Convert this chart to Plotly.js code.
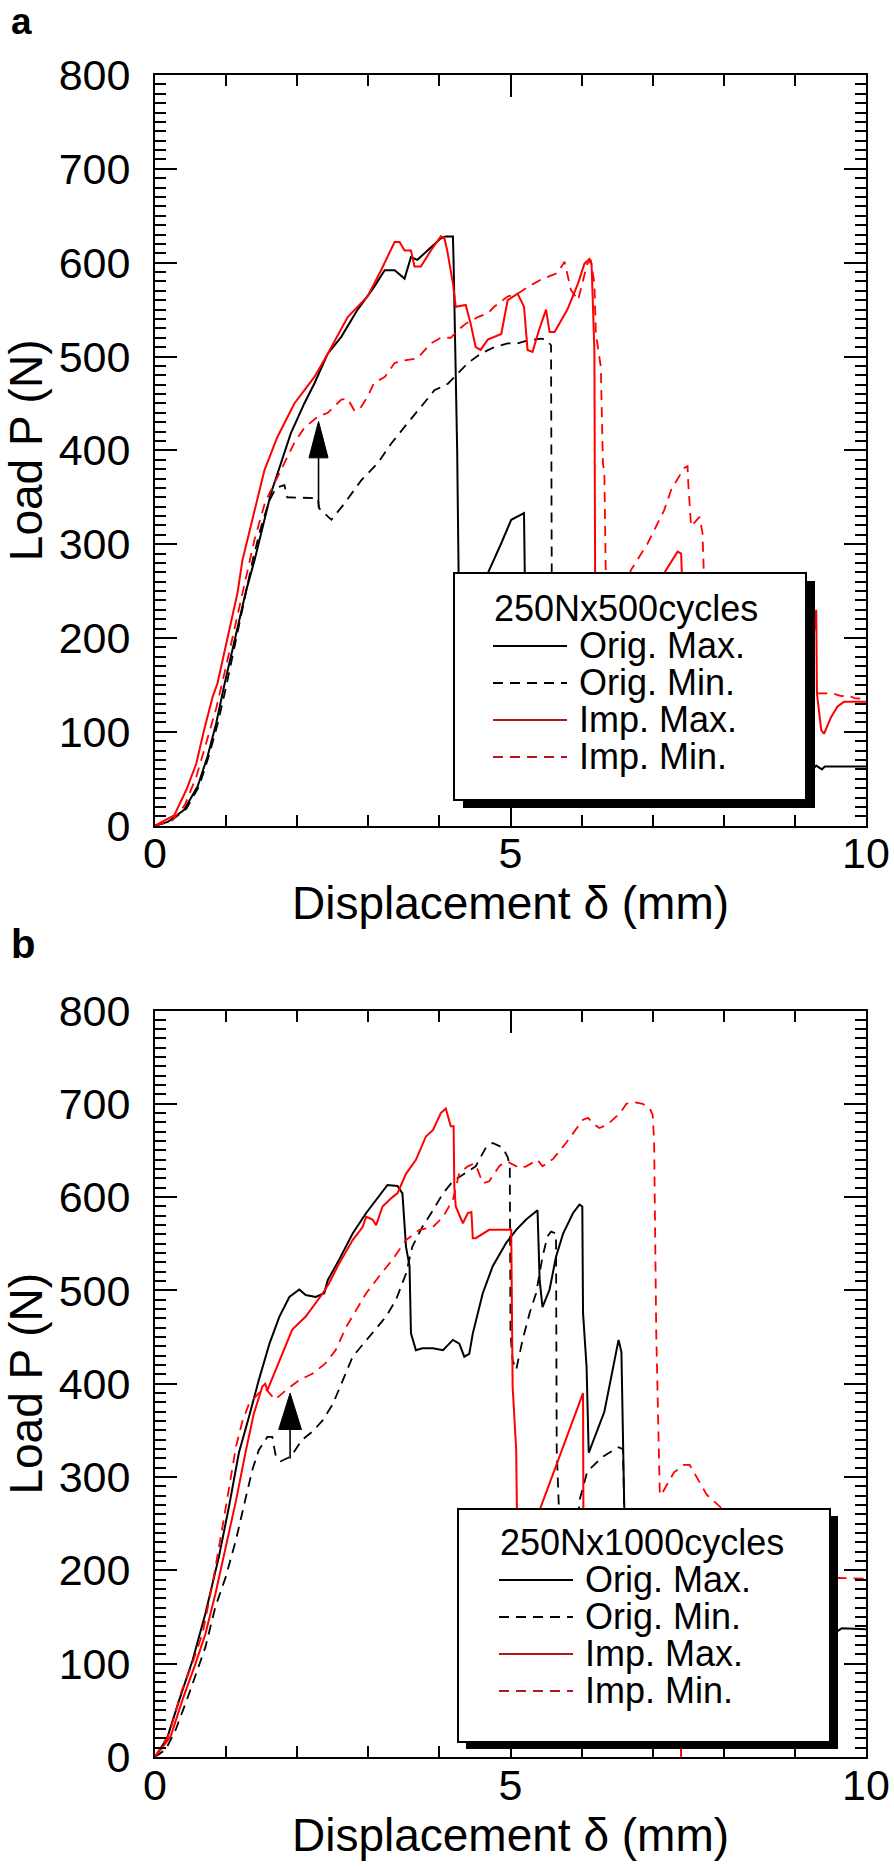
<!DOCTYPE html>
<html><head><meta charset="utf-8">
<script src="https://cdn.plot.ly/plotly-3.0.1.min.js"></script>
<style>html,body{margin:0;padding:0;background:#fff}</style>
</head><body><div id="chart" style="width:894px;height:1868px"></div>
<script>
// ---------- DATA ----------
const seriesNames = ['Orig. Max.', 'Orig. Min.', 'Imp. Max.', 'Imp. Min.'];
const legendTitleA = '250Nx500cycles';
const legendTitleB = '250Nx1000cycles';
const xTickVals = [0, 5, 10];
const yTickVals = [0, 100, 200, 300, 400, 500, 600, 700, 800];

// Panel a : 250N x 500 cycles
const aOrigMaxX = [0,0.18,0.41,0.60,0.74,0.86,0.975,1.14,1.28,1.40,1.49,1.63,1.77,1.91,2.10,2.24,2.43,2.62,2.85,3.08,3.23,3.37,3.51,3.60,3.69,3.84,4.02,4.09,4.19,4.20,4.22,4.25,4.27,4.32,4.55,4.68,4.87,5.01,5.19,5.20,5.22,9.25,9.30,9.38,9.42,10];
const aOrigMaxY = [0,4,17,42,74,109,150,205,250,283,312,354,386,418,450,471,503,521,550,574,592,592,583,606,603,613,626,628,628,600,520,400,269,200,230,269,301,326,333,260,150,60,64,60,63,63];

const aOrigMinX = [0,0.22,0.44,0.62,0.76,0.88,1.00,1.14,1.27,1.38,1.48,1.60,1.70,1.82,1.86,2.17,2.29,2.31,2.48,2.66,2.90,3.13,3.32,3.51,3.74,3.93,4.12,4.26,4.40,4.58,4.77,4.96,5.10,5.24,5.43,5.50,5.57,5.58,5.59];
const aOrigMinY = [0,5,18,42,75,108,148,198,245,285,315,345,360,363,350,349,349,338,326,343,368,386,407,425,446,464,471,482,493,503,510,514,514,517,519,518,512,269,60];

const aImpMaxX = [0,0.27,0.44,0.58,0.69,0.81,0.88,1.02,1.16,1.23,1.35,1.54,1.72,1.96,2.24,2.43,2.71,2.99,3.18,3.37,3.44,3.51,3.60,3.65,3.74,3.88,4.02,4.07,4.11,4.19,4.23,4.37,4.44,4.51,4.58,4.68,4.87,4.96,5.10,5.19,5.24,5.31,5.40,5.50,5.55,5.62,5.80,5.95,6.04,6.11,6.14,6.16,6.17,6.18,6.19,6.21,6.80,7.16,7.35,7.40,7.41,7.43,9.26,9.30,9.31,9.37,9.41,9.51,9.60,9.69,10];
const aImpMaxY = [0,11,38,66,102,137,152,201,248,283,319,379,414,450,478,503,542,564,592,622,622,613,613,596,596,613,628,626,613,578,553,555,535,510,507,518,524,560,567,553,507,505,528,550,526,526,550,578,599,604,599,560,530,507,269,150,190,269,292,290,269,150,200,230,141,102,98,116,127,132,132];

const aImpMinX = [0,0.25,0.42,0.58,0.72,0.86,1.00,1.13,1.27,1.40,1.55,1.77,1.96,2.10,2.29,2.43,2.62,2.71,2.80,2.87,2.99,3.08,3.23,3.37,3.51,3.69,3.88,4.02,4.16,4.26,4.37,4.54,4.68,4.77,4.96,5.10,5.24,5.43,5.52,5.66,5.76,5.80,5.85,5.95,6.08,6.13,6.18,6.20,6.23,6.27,6.30,6.32,6.34,6.40,6.55,6.69,6.93,7.16,7.26,7.44,7.49,7.50,7.54,7.66,7.70,7.72,7.75,9.28,9.33,9.53,9.65,9.74,9.84,10];
const aImpMinY = [0,6,22,52,88,125,170,215,262,305,345,379,408,424,436,440,454,455,443,443,457,472,478,493,496,498,514,520,520,528,535,542,546,553,564,567,574,582,585,589,601,589,571,560,599,602,578,525,507,489,386,376,269,150,200,272,301,336,358,381,383,365,319,329,312,272,200,141,141,141,138,139,136,135];

// Panel b : 250N x 1000 cycles
const bOrigMaxX = [0,0.17,0.34,0.53,0.71,0.90,1.04,1.18,1.32,1.46,1.61,1.75,1.89,2.03,2.12,2.26,2.38,2.43,2.59,2.78,2.97,3.11,3.27,3.41,3.48,3.53,3.58,3.60,3.67,3.76,3.91,4.05,4.19,4.28,4.35,4.42,4.47,4.61,4.75,4.94,5.08,5.22,5.38,5.41,5.45,5.55,5.64,5.74,5.88,5.97,6.01,6.02,6.07,6.10,6.32,6.52,6.56,6.60,6.70,6.75,9.60,9.66,10];
const bOrigMaxY = [0,20,61,104,154,215,268,326,364,404,443,472,493,501,495,493,497,511,533,561,583,597,613,612,604,547,526,454,436,438,438,436,447,443,429,432,454,497,526,551,565,576,586,511,482,501,536,561,583,592,590,476,418,326,370,447,434,268,13,40,135,138,137];

const bOrigMinX = [0,0.15,0.29,0.48,0.71,0.85,0.995,1.14,1.28,1.37,1.46,1.58,1.65,1.70,1.77,1.91,2.07,2.22,2.36,2.50,2.78,3.01,3.25,3.39,3.53,3.62,3.76,3.91,4.05,4.19,4.38,4.51,4.66,4.75,4.89,4.96,4.99,5.00,5.03,5.08,5.17,5.27,5.36,5.45,5.52,5.57,5.64,5.65,5.68,5.70,5.93,5.97,6.08,6.30,6.52,6.58,6.60,6.62];
const bOrigMinY = [0,8,29,68,118,161,193,233,279,308,329,343,343,322,317,322,340,349,361,378,429,450,472,490,518,547,568,586,604,617,626,633,654,658,653,643,633,454,425,415,447,476,497,536,558,563,561,329,268,180,230,275,306,322,332,330,268,120];

const bImpMaxX = [0,0.22,0.385,0.57,0.71,0.85,0.995,1.14,1.28,1.39,1.51,1.55,1.58,1.75,1.93,2.12,2.36,2.45,2.59,2.78,2.92,2.97,3.06,3.11,3.20,3.34,3.41,3.53,3.67,3.81,3.91,4.02,4.09,4.16,4.20,4.21,4.23,4.33,4.40,4.45,4.47,4.51,4.70,5.01,5.03,5.08,5.10,6.02,6.03,7.38,7.40];
const bImpMaxY = [0,22,61,100,132,175,225,275,329,368,397,400,393,425,458,472,497,508,529,554,568,579,576,570,590,600,604,625,640,665,672,690,695,676,676,611,590,572,583,584,556,556,565,565,397,329,201,390,150,100,0];

const bImpMinX = [0,0.20,0.38,0.525,0.67,0.81,0.95,1.04,1.14,1.23,1.32,1.46,1.55,1.69,1.84,2.03,2.22,2.40,2.54,2.69,2.83,2.97,3.15,3.34,3.53,3.72,3.91,4.05,4.19,4.28,4.40,4.49,4.54,4.61,4.70,4.85,4.96,5.13,5.22,5.38,5.45,5.60,5.78,5.88,6.02,6.09,6.16,6.25,6.35,6.44,6.54,6.63,6.72,6.86,6.96,7.00,7.02,7.05,7.09,7.10,7.12,7.30,7.44,7.52,7.76,7.95,8.10,9.45,9.61,10];
const bImpMinY = [0,25,72,100,133,186,247,286,333,360,378,390,395,383,393,404,411,422,436,461,479,497,515,533,554,565,568,579,597,626,633,636,629,615,617,634,638,631,633,640,633,641,658,668,683,685,679,674,677,683,690,700,702,700,695,688,660,454,329,281,281,305,313,313,281,268,240,190,192,191];

// Arrow annotations (displacement, load values)
const arrowA = {x: 2.30, from: 339, to: 431, head: 392, half: 0.134};
const arrowB = {x: 1.90, from: 320, to: 390, head: 351, half: 0.16};

// ---------- STYLE / LAYOUT ----------
const FONT = 'Liberation Sans, Arial, Helvetica, sans-serif';
const RED = 'rgb(255,0,0)';
const LEG_RED = 'rgb(185,20,30)';
const W = 894, H = 1868;
const L = 155, R = 866, T = 75, B = 1757;
const px2x = p => (p - L) / (R - L);
const py2y = p => (B - p) / (B - T);

function trace(x, y, name, color, dashed, xa, ya) {
  return {type: 'scatter', mode: 'lines', x: x, y: y, name: name, xaxis: xa, yaxis: ya,
    showlegend: false, line: {color: color, width: dashed ? 1.8 : 2, dash: dashed ? '10px,7px' : 'solid'}};
}

const data = [
  trace(aOrigMaxX, aOrigMaxY, seriesNames[0], '#000', false, 'x', 'y'),
  trace(aOrigMinX, aOrigMinY, seriesNames[1], '#000', true, 'x', 'y'),
  trace(aImpMaxX, aImpMaxY, seriesNames[2], RED, false, 'x', 'y'),
  trace(aImpMinX, aImpMinY, seriesNames[3], RED, true, 'x', 'y'),
  trace(bOrigMaxX, bOrigMaxY, seriesNames[0], '#000', false, 'x2', 'y2'),
  trace(bOrigMinX, bOrigMinY, seriesNames[1], '#000', true, 'x2', 'y2'),
  trace(bImpMaxX, bImpMaxY, seriesNames[2], RED, false, 'x2', 'y2'),
  trace(bImpMinX, bImpMinY, seriesNames[3], RED, true, 'x2', 'y2')
];

const tickCommon = {ticks: 'inside', tickcolor: '#000', tickwidth: 2, ticklen: 22,
  showline: true, linecolor: '#000', linewidth: 2, mirror: 'ticks',
  showgrid: false, zeroline: false, fixedrange: true,
  tickfont: {family: FONT, size: 43, color: '#000'}};

function xAxis(anchor) {
  return Object.assign({}, tickCommon, {anchor: anchor, domain: [0, 1],
    range: [xTickVals[0], xTickVals[xTickVals.length - 1]],
    tickmode: 'linear', tick0: xTickVals[0], dtick: xTickVals[1] - xTickVals[0], ticklabelstandoff: -11,
    minor: {tickmode: 'linear', tick0: 0, dtick: 1, ticks: 'inside', ticklen: 11, tickwidth: 2, tickcolor: '#000', showgrid: false},
    title: {text: 'Displacement \u03b4 (mm)', font: {family: FONT, size: 46, color: '#000'}, standoff: 2}});
}
function yAxis(anchor, domain) {
  return Object.assign({}, tickCommon, {anchor: anchor, domain: domain,
    range: [yTickVals[0], yTickVals[yTickVals.length - 1]],
    tickmode: 'linear', tick0: yTickVals[0], dtick: yTickVals[1] - yTickVals[0], ticklabelstandoff: 14,
    minor: {tickmode: 'linear', tick0: 0, dtick: 10, ticks: 'inside', ticklen: 11, tickwidth: 2, tickcolor: '#000', showgrid: false},
    title: {text: 'Load P (N)', font: {family: FONT, size: 46, color: '#000'}, standoff: 10}});
}

const shapes = [];
const annotations = [];

function arrow(a, xr, yr) {
  shapes.push({type: 'line', xref: xr, yref: yr, x0: a.x, x1: a.x, y0: a.from, y1: a.head,
    line: {color: '#000', width: 1.6}});
  shapes.push({type: 'path', xref: xr, yref: yr,
    path: 'M ' + a.x + ' ' + a.to + ' L ' + (a.x - a.half) + ' ' + a.head + ' L ' + (a.x + a.half) + ' ' + a.head + ' Z',
    fillcolor: '#000', line: {color: '#000', width: 1}});
}
arrow(arrowA, 'x', 'y');
arrow(arrowB, 'x2', 'y2');

function legend(g, title) {
  const [x0, y0, x1, y1] = g.box;
  shapes.push({type: 'rect', xref: 'paper', yref: 'paper', x0: px2x(x0 + g.dx), x1: px2x(x1 + g.dx),
    y0: py2y(y0 + g.dy), y1: py2y(y1 + g.dy), fillcolor: '#000', line: {width: 0}});
  shapes.push({type: 'rect', xref: 'paper', yref: 'paper', x0: px2x(x0), x1: px2x(x1),
    y0: py2y(y0), y1: py2y(y1), fillcolor: '#fff', line: {color: '#000', width: 2}});
  annotations.push({xref: 'paper', yref: 'paper', x: px2x(g.titleX - 1), y: py2y(g.titleBase - 12.5),
    xanchor: 'left', yanchor: 'middle', showarrow: false, text: title,
    font: {family: FONT, size: 36, color: '#000'}});
  const colors = ['#000', '#000', LEG_RED, LEG_RED];
  const dashes = ['solid', '10px,7px', 'solid', '10px,7px'];
  seriesNames.forEach((nm, i) => {
    const base = g.titleBase + g.step * (i + 1);
    shapes.push({type: 'line', xref: 'paper', yref: 'paper', x0: px2x(g.sx0), x1: px2x(g.sx1),
      y0: py2y(base - 12), y1: py2y(base - 12), line: {color: colors[i], width: 2, dash: dashes[i]}});
    annotations.push({xref: 'paper', yref: 'paper', x: px2x(g.textX - 1), y: py2y(base - 12.5),
      xanchor: 'left', yanchor: 'middle', showarrow: false, text: nm,
      font: {family: FONT, size: 36, color: '#000'}});
  });
}
legend({box: [454, 573, 806, 800], dx: 9, dy: 8, titleX: 493, titleBase: 621, step: 37,
  sx0: 493, sx1: 567, textX: 578}, legendTitleA);
legend({box: [458, 1509, 830, 1742], dx: 8, dy: 7, titleX: 499, titleBase: 1555, step: 37,
  sx0: 499, sx1: 573, textX: 584}, legendTitleB);

annotations.push({xref: 'paper', yref: 'paper', x: px2x(10), y: py2y(21.5), xanchor: 'left', yanchor: 'middle',
  showarrow: false, borderpad: 0, text: '<b>a</b>', font: {family: FONT, size: 37, color: '#000'}});
annotations.push({xref: 'paper', yref: 'paper', x: px2x(9), y: py2y(944), xanchor: 'left', yanchor: 'middle',
  showarrow: false, text: '<b>b</b>', font: {family: FONT, size: 40, color: '#000'}});

const layout = {
  width: W, height: H, margin: {l: L, r: W - R, t: T, b: H - B, pad: 0},
  paper_bgcolor: '#fff', plot_bgcolor: '#fff', showlegend: false,
  font: {family: FONT, color: '#000'},
  xaxis: xAxis('y'),
  yaxis: yAxis('x', [py2y(825.7), 1]),
  xaxis2: xAxis('y2'),
  yaxis2: yAxis('x2', [0, py2y(1010.5)]),
  shapes: shapes,
  annotations: annotations
};

Plotly.newPlot('chart', data, layout, {staticPlot: true, displayModeBar: false});
</script></body></html>
